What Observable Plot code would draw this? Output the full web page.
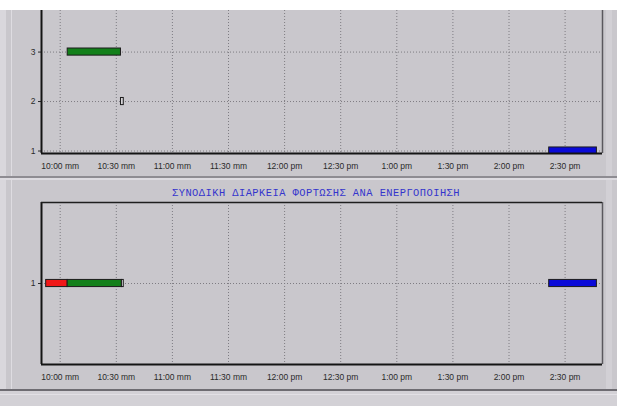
<!DOCTYPE html>
<html><head><meta charset="utf-8">
<script src="https://cdn.jsdelivr.net/npm/d3@7"></script>
<script src="https://cdn.jsdelivr.net/npm/@observablehq/plot@0.6"></script>
<style>
html,body{margin:0;padding:0;}
body{width:617px;height:406px;position:relative;overflow:hidden;background:#c9c7cc;font-family:"Liberation Sans",Arial,sans-serif;}
.abs{position:absolute;}
#topstrip{left:0;top:0;width:617px;height:10px;background:#ffffff;z-index:5;}
#leftband{left:0;top:0;width:6px;height:406px;background:#d9d7dc;}
#leftline{left:11px;top:0;width:1px;height:406px;background:#dedce1;}
#sep1{left:0;top:176px;width:617px;height:1.5px;background:#8e8c92;}
#sep1b{left:0;top:178px;width:617px;height:2px;background:#dddbe0;}
#sep2{left:0;top:389px;width:617px;height:2px;background:#6e6c72;}
#foot{left:0;top:391px;width:617px;height:15px;background:#d3d1d6;}
#footline{left:0;top:394px;width:617px;height:1px;background:#e2e0e5;}
#rightband{left:606px;top:0;width:6px;height:406px;background:#d2d0d5;}
#top{left:0;top:10px;}
#bot{left:0;top:180px;}
#title{left:172px;top:187px;font-family:"Liberation Mono","DejaVu Sans Mono",monospace;font-size:10.4px;line-height:12px;color:#3434cc;white-space:pre;}
svg{overflow:visible;}
</style></head><body>
<div class="abs" id="leftband"></div>
<div class="abs" id="leftline"></div>
<div class="abs" id="rightband"></div>
<div class="abs" id="sep1"></div>
<div class="abs" id="sep1b"></div>
<div class="abs" id="foot"></div>
<div class="abs" id="footline"></div>
<div class="abs" id="sep2"></div>
<div class="abs" id="top"></div>
<div class="abs" id="bot"></div>
<div class="abs" id="title"></div>
<div class="abs" id="topstrip"></div>
<script>
// ---- data ----
const timeDomain = ["09:50", "14:50"];
const tickTimes = ["10:00","10:30","11:00","11:30","12:00","12:30","13:00","13:30","14:00","14:30"];
const tickLabels = ["10:00 mm","10:30 mm","11:00 mm","11:30 mm","12:00 pm","12:30 pm","1:00 pm","1:30 pm","2:00 pm","2:30 pm"];

// top panel
const topYDomain = [0.95, 3.84];
const topYTicks = [1, 2, 3];
const topRow   = [3, 2, 1];
const topStart = ["10:04:00", "10:32:30", "14:21:30"];
const topEnd   = ["10:32:30", "10:34:00", "14:47:00"];
const topState = ["green", "marker", "blue"];

// bottom panel
const title = "ΣΥΝΟΔΙΚΗ ΔΙΑΡΚΕΙΑ ΦΟΡΤΩΣΗΣ ΑΝΑ ΕΝΕΡΓΟΠΟΙΗΣΗ";
const botYDomain = [0, 2];
const botYTicks = [1];
const botRow   = [1, 1, 1, 1];
const botStart = ["09:52:30", "10:04:00", "10:33:00", "14:21:30"];
const botEnd   = ["10:04:00", "10:33:00", "10:34:00", "14:47:00"];
const botState = ["red", "green", "marker", "blue"];

const stateNames  = ["red", "green", "marker", "blue"];
const stateColors = ["#f01818", "#13801a", "#d8d6da", "#0a0ad8"];

// ---- build ----
const parse = t => new Date(`2000-01-01T${t.length === 5 ? t + ":00" : t}Z`);
const xDom = timeDomain.map(parse);
const ticks = tickTimes.map(parse);
const labelOf = d => tickLabels[ticks.findIndex(t => +t === +d)];

const topData = topRow.map((r, i) => ({row: r, start: parse(topStart[i]), end: parse(topEnd[i]), state: topState[i]}));
const botData = botRow.map((r, i) => ({row: r, start: parse(botStart[i]), end: parse(botEnd[i]), state: botState[i]}));

const grid = {stroke: "#7e7c82", strokeDasharray: "1,2", strokeWidth: 1, strokeOpacity: 1};
const style = {background: "transparent", fontFamily: "'Liberation Sans', Arial, sans-serif", fontSize: "8.5px", color: "#2a2a2a", overflow: "visible"};
const color = {domain: stateNames, range: stateColors};

function panel({height, marginTop, marginBottom, yDomain, yTicks, data, half, frameTop}) {
  return Plot.plot({
    width: 617, height, marginTop, marginBottom, marginLeft: 41, marginRight: 15,
    style,
    x: {type: "utc", domain: xDom, ticks, tickFormat: labelOf, tickSize: 0, tickPadding: 9, label: null},
    y: {domain: yDomain, ticks: yTicks, tickFormat: d => String(d), tickSize: 3, tickPadding: 3, label: null},
    color,
    marks: [
      Plot.ruleX(ticks, {x: d => d, ...grid}),
      Plot.ruleY(yTicks, {y: d => d, ...grid}),
      Plot.rect(data, {x1: "start", x2: "end", y1: d => d.row - half, y2: d => d.row + half,
                       fill: "state", stroke: "#1c1c1c", strokeWidth: 1, clip: true}),
      Plot.ruleX([xDom[1]], {x: d => d, stroke: "#5a585e", strokeWidth: 1.5}),
      Plot.ruleX([xDom[0]], {x: d => d, stroke: "#141414", strokeWidth: 2}),
      Plot.ruleY([yDomain[0]], {y: d => d, stroke: "#141414", strokeWidth: 2}),
      ...(frameTop ? [Plot.ruleY([yDomain[1]], {y: d => d, stroke: "#1e1e1e", strokeWidth: 1.5})] : [])
    ]
  });
}

document.getElementById("top").append(panel({
  height: 165, marginTop: 0, marginBottom: 22,
  yDomain: topYDomain, yTicks: topYTicks, data: topData, half: 0.072, frameTop: false
}));
document.getElementById("bot").append(panel({
  height: 206, marginTop: 22, marginBottom: 22,
  yDomain: botYDomain, yTicks: botYTicks, data: botData, half: 0.044, frameTop: true
}));
const titleEl = document.getElementById("title");
titleEl.textContent = title;
// stretch the title to the width it spans in the reference (172 → 460 px)
const w = titleEl.getBoundingClientRect().width;
titleEl.style.letterSpacing = ((288 - w) / title.length) + "px";
</script>
</body></html>
